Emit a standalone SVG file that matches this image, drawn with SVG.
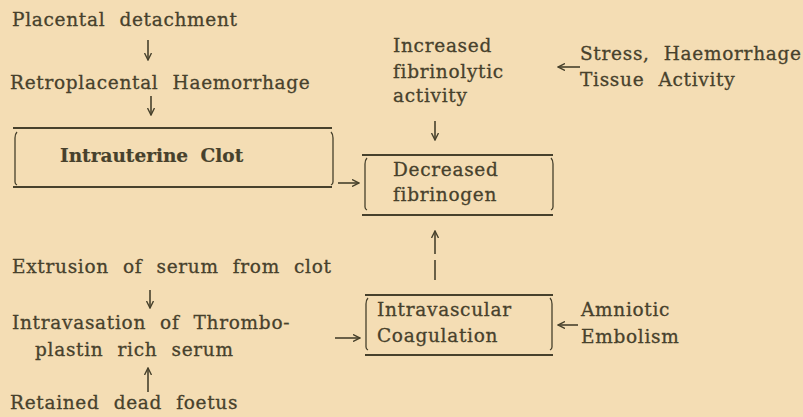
<svg xmlns="http://www.w3.org/2000/svg" width="803" height="417" viewBox="0 0 803 417">
<defs>
<style>
.t{font-family:"DejaVu Serif","Liberation Serif",serif;font-size:18.5px;fill:#47412c;stroke:#47412c;stroke-width:0.3px;letter-spacing:0.7px;word-spacing:7.5px}
.b{font-weight:bold;letter-spacing:0;word-spacing:6px;stroke-width:0.2px}
.ln{stroke:#47412c;fill:none;stroke-width:2}
.sd{stroke:#47412c;fill:none;stroke-width:1.3}
.ar{stroke:#47412c;fill:none;stroke-width:1.6}
</style>
<marker id="ah" viewBox="0 0 8 8" refX="7" refY="4" markerWidth="8" markerHeight="8" markerUnits="userSpaceOnUse" orient="auto">
<path d="M0,0.5 L7,4 L0,7.5" fill="none" stroke="#47412c" stroke-width="1.4"/>
</marker>
</defs>
<rect width="803" height="417" fill="#f4ddb4"/>
<g id="placental-detachment"><text class="t" x="12" y="26">Placental detachment</text></g>
<g id="retroplacental-haemorrhage"><text class="t" x="10" y="89">Retroplacental Haemorrhage</text></g>
<g id="intrauterine-clot">
<path class="ln" d="M13 128 H332 M13 187 H332"/>
<path class="sd" d="M17 132 Q15 134 15 138 V182 Q15 184 17 185 M331 132 Q333 134 333 138 V182 Q333 184 331 185"/>
<text class="t b" x="60" y="162">Intrauterine Clot</text>
</g>
<g id="increased-fibrinolytic">
<text class="t" x="393" y="52">Increased</text>
<text class="t" x="393" y="78">fibrinolytic</text>
<text class="t" x="393" y="102">activity</text>
</g>
<g id="stress-haemorrhage">
<text class="t" x="580" y="60">Stress, Haemorrhage</text>
<text class="t" x="580" y="86">Tissue Activity</text>
</g>
<g id="decreased-fibrinogen">
<path class="ln" d="M362 155 H553 M362 215 H553"/>
<path class="sd" d="M367 158 Q365 160 365 164 V207 Q365 209 367 210 M551 158 Q553 160 553 164 V207 Q553 209 551 210"/>
<text class="t" x="393" y="176">Decreased</text>
<text class="t" x="393" y="201">fibrinogen</text>
</g>
<g id="extrusion"><text class="t" x="12" y="273">Extrusion of serum from clot</text></g>
<g id="intravasation">
<text class="t" x="12" y="329">Intravasation of Thrombo-</text>
<text class="t" x="35" y="356">plastin rich serum</text>
</g>
<g id="retained-foetus"><text class="t" x="10" y="409">Retained dead foetus</text></g>
<g id="intravascular-coagulation">
<path class="ln" d="M365 295 H553 M365 355 H553"/>
<path class="sd" d="M368 298 Q366 300 366 304 V347 Q366 349 368 350 M550 298 Q552 300 552 304 V347 Q552 349 550 350"/>
<text class="t" x="377" y="316">Intravascular</text>
<text class="t" x="377" y="342">Coagulation</text>
</g>
<g id="amniotic-embolism">
<text class="t" x="581" y="316">Amniotic</text>
<text class="t" x="581" y="343">Embolism</text>
</g>
<g id="connectors">
<path class="ar" marker-end="url(#ah)" d="M148 40 V60"/>
<path class="ar" marker-end="url(#ah)" d="M151 96 V115"/>
<path class="ar" marker-end="url(#ah)" d="M338 183 H359"/>
<path class="ar" marker-end="url(#ah)" d="M435 121 V140"/>
<path class="ar" marker-end="url(#ah)" d="M580 67 H558"/>
<path class="ar" marker-end="url(#ah)" d="M435 254 V231"/>
<path class="ar" d="M435 260 V280"/>
<path class="ar" marker-end="url(#ah)" d="M150 290 V308"/>
<path class="ar" marker-end="url(#ah)" d="M148 392 V368"/>
<path class="ar" marker-end="url(#ah)" d="M335 338 H360"/>
<path class="ar" marker-end="url(#ah)" d="M578 325 H558"/>
</g>
</svg>
